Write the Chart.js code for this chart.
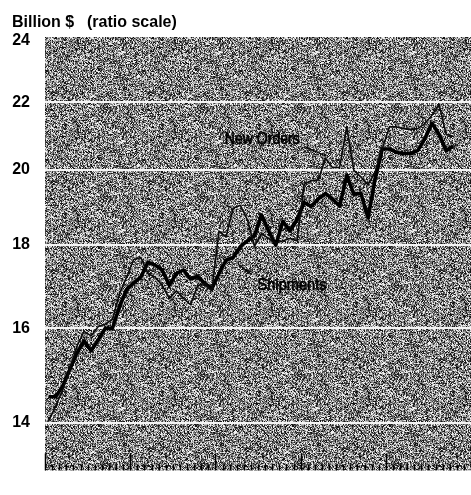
<!DOCTYPE html>
<html>
<head>
<meta charset="utf-8">
<script src="https://cdn.jsdelivr.net/npm/chart.js@4.4.1/dist/chart.umd.min.js"></script>
<style>
  html, body { margin: 0; padding: 0; background: #fff; }
  #wrap { width: 471px; height: 495px; }
</style>
</head>
<body>
<div id="wrap"><canvas id="chart" width="471" height="495"></canvas></div>
<script>
// monthly values, billion $
const shipments = [
    14.53, 14.53, 14.75, 15.1, 15.45, 15.72, 15.5, 15.74, 16.0, 16.0,
    16.5, 16.9, 17.05, 17.2, 17.56, 17.49, 17.37, 17.0, 17.28, 17.37,
    17.15, 17.21, 17.05, 16.92, 17.28, 17.61, 17.68, 17.95, 18.1, 18.23,
    18.77, 18.35, 17.99, 18.6, 18.35, 18.65, 19.1, 19.0, 19.2, 19.35,
    19.2, 19.0, 19.85, 19.33, 19.35, 18.7, 19.75, 20.6, 20.6, 20.5,
    20.47, 20.47, 20.55, 20.9, 21.36, 21.03, 20.55, 20.69
];
const newOrders = [
    14.04, 14.34, 14.67, 15.1, 15.6, 15.93, 15.83, 16.04, 16.1, 16.2,
    16.8, 17.2, 17.63, 17.68, 17.28, 17.2, 17.0, 16.69, 16.87, 16.69,
    16.54, 16.99, 17.05, 16.87, 18.35, 18.2, 18.95, 19.03, 18.65, 17.96,
    18.28, 18.16, 18.04, 18.1, 18.16, 18.1, 19.6, 19.7, 19.72, 20.33,
    20.07, 20.07, 21.25, 19.99, 19.8, 19.59, 19.94, 20.6, 21.25, 21.25,
    21.2, 21.17, 21.2, 21.35, 21.6, 21.94, 21.03, 20.97
];
const yTicks = [14, 16, 18, 20, 22, 24];
const monthsShown = 60;

// series labels with leader lines, placed in data units
const notes = [
    { text: 'New Orders', at: [30.6, 20.89], width: 75, leader: [[36.6, 20.67], [39.6, 20.39]] },
    { text: 'Shipments', at: [34.8, 17.01], width: 69, leader: [[27.2, 17.51], [29.15, 17.26]] }
];

function toPoints(values) {
    return values.map((v, i) => ({ x: i + 0.5, y: v }));
}

function makeStipple(ctx) {
    const c = document.createElement('canvas');
    c.width = 97; c.height = 89;
    const g = c.getContext('2d');
    const img = g.createImageData(c.width, c.height);
    const levels = [20, 65, 110, 150, 195, 240];
    for (let y = 0; y < c.height; y++) {
        for (let x = 0; x < c.width; x++) {
            let h = Math.imul(x + 11, 374761393) + Math.imul(y + 7, 668265263);
            h = Math.imul(h ^ (h >>> 13), 1274126177);
            h = (h ^ (h >>> 16)) >>> 0;
            const lv = levels[h % levels.length];
            const k = (y * c.width + x) * 4;
            img.data[k] = img.data[k + 1] = img.data[k + 2] = lv;
            img.data[k + 3] = 255;
        }
    }
    g.putImageData(img, 0, 0);
    return ctx.createPattern(c, 'repeat');
}

const paper = {
    id: 'paper',
    beforeDraw(chart) {
        const { ctx, chartArea: a } = chart;
        ctx.save();
        ctx.fillStyle = makeStipple(ctx);
        ctx.fillRect(a.left, a.top, a.right - a.left, a.bottom - a.top);
        ctx.restore();
    },
    afterDatasetsDraw(chart) {
        const { ctx, chartArea: a } = chart;
        const xs = chart.scales.x, ys = chart.scales.y;
        ctx.save();

        // month ticks along the bottom edge, longer ones at the years
        ctx.strokeStyle = '#000';
        ctx.lineWidth = 1.5;
        for (let m = 0; m <= monthsShown; m++) {
            const px = Math.round(xs.getPixelForValue(m)) + 0.5;
            const len = m % 12 === 0 ? 17 : 6;
            ctx.beginPath();
            ctx.moveTo(px, a.bottom);
            ctx.lineTo(px, a.bottom - len);
            ctx.stroke();
        }

        // series labels
        ctx.fillStyle = '#000';
        ctx.font = '17px "Liberation Sans", Arial, sans-serif';
        ctx.textBaseline = 'middle';
        ctx.textAlign = 'center';
        notes.forEach(n => {
            const px = xs.getPixelForValue(n.at[0]);
            const py = ys.getPixelForValue(n.at[1]);
            const w = ctx.measureText(n.text).width;
            ctx.save();
            ctx.translate(px, py);
            ctx.scale(n.width / w, 1);
            ctx.lineWidth = 0.7;
            ctx.strokeText(n.text, 0, 0);
            ctx.fillText(n.text, 0, 0);
            ctx.restore();

            ctx.lineWidth = 1.3;
            ctx.beginPath();
            ctx.moveTo(xs.getPixelForValue(n.leader[0][0]), ys.getPixelForValue(n.leader[0][1]));
            ctx.lineTo(xs.getPixelForValue(n.leader[1][0]), ys.getPixelForValue(n.leader[1][1]));
            ctx.stroke();
        });
        ctx.restore();
    },
    afterDraw(chart) {
        const ctx = chart.ctx;
        ctx.save();
        ctx.fillStyle = '#000';
        ctx.font = 'bold 16px "Liberation Sans", Arial, sans-serif';
        ctx.textBaseline = 'alphabetic';
        ctx.textAlign = 'left';
        ctx.fillText('Billion $', 12, 27);
        ctx.fillText('(ratio scale)', 87, 27);
        ctx.restore();
    }
};

new Chart(document.getElementById('chart'), {
    type: 'line',
    data: {
        datasets: [
            {
                label: 'New Orders',
                data: toPoints(newOrders),
                borderColor: '#0a0a0a',
                borderWidth: 1.6,
                pointRadius: 0,
                tension: 0,
                borderJoinStyle: 'round'
            },
            {
                label: 'Shipments',
                data: toPoints(shipments),
                borderColor: '#000',
                borderWidth: 3.6,
                pointRadius: 0,
                tension: 0,
                borderJoinStyle: 'round'
            }
        ]
    },
    options: {
        responsive: false,
        animation: false,
        devicePixelRatio: 1,
        layout: { padding: { top: 37, left: 0, right: 0, bottom: 0 } },
        plugins: {
            legend: { display: false },
            tooltip: { enabled: false }
        },
        scales: {
            x: {
                type: 'linear',
                min: 0,
                max: monthsShown,
                display: false
            },
            y: {
                type: 'logarithmic',
                min: 13.097,
                max: 24.12,
                afterFit: s => { s.width = 45; },
                afterBuildTicks: s => { s.ticks = yTicks.map(v => ({ value: v })); },
                border: { display: false },
                grid: {
                    drawTicks: false,
                    lineWidth: 2,
                    color: c => (c.tick && c.tick.value === 24 ? 'rgba(0,0,0,0)' : '#f4f4f4')
                },
                ticks: {
                    padding: 15,
                    color: '#000',
                    font: { family: '"Liberation Sans", Arial, sans-serif', size: 16, weight: 'bold' },
                    callback: v => String(v)
                }
            }
        }
    },
    plugins: [paper]
});
</script>
</body>
</html>
